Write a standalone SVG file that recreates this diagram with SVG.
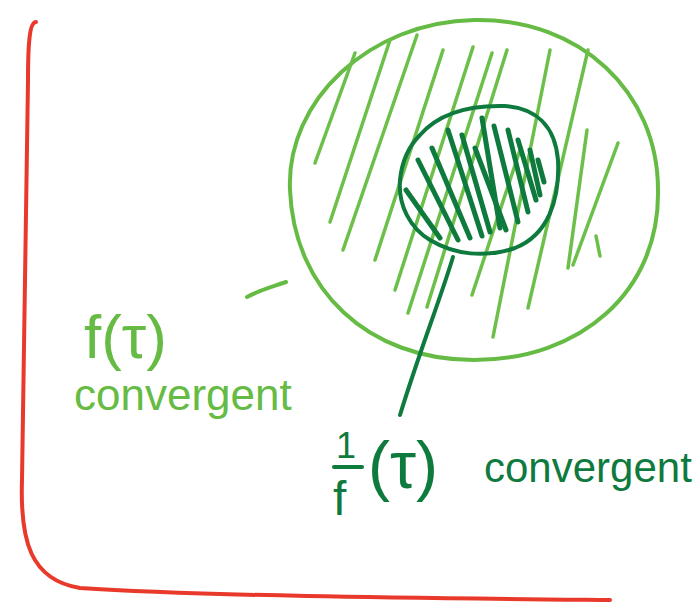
<svg xmlns="http://www.w3.org/2000/svg" width="696" height="608" viewBox="0 0 696 608">
<style>
.lg{fill:none;stroke:#66bb44;stroke-width:4;stroke-linecap:round;stroke-linejoin:round}
.lh{fill:none;stroke:#6cc04a;stroke-width:3.5;stroke-linecap:round}
.dg{fill:none;stroke:#0f7a3e;stroke-width:4;stroke-linecap:round;stroke-linejoin:round}
.dh{fill:none;stroke:#0f7a3e;stroke-width:5;stroke-linecap:round}
.red{fill:none;stroke:#e8392b;stroke-width:4;stroke-linecap:round;stroke-linejoin:round}
.tl{fill:#66bb44;font-family:"Liberation Sans","DejaVu Sans",sans-serif}
.td{fill:#0f7a3e;font-family:"Liberation Sans","DejaVu Sans",sans-serif}
</style>
<rect width="696" height="608" fill="#ffffff"/>
<g id="axes">
<path class="red" d="M36,22 C30,22 28,40 28,80 L22,480 C20,540 30,580 80,588 C200,596 420,598 610,600"/>
</g>
<g id="outer-region">
<path class="lg" d="M290,190 C286,100 370,22 474,20 C580,18 658,92 658,190 C660,292 580,360 474,360 C368,360 294,290 290,190 Z"/>
<g class="lh">
<path d="M315,163 L355,53"/>
<path d="M330,222 L390,40"/>
<path d="M343,250 L417,35"/>
<path d="M375,260 L443,50"/>
<path d="M395,290 L473,47"/>
<path d="M408,313 L492,53"/>
<path d="M427,307 L507,50"/>
<path d="M472,295 L520,150"/>
<path d="M493,337 L550,50"/>
<path d="M528,308 L588,50"/>
<path d="M568,268 L587,130"/>
<path d="M573,265 L618,143"/>
<path d="M596,236 L600,256"/>
</g>
</g>
<g id="inner-region">
<path class="dg" d="M420,135 C440,112 470,105 505,106 C535,108 555,125 558,160 C560,200 548,235 515,248 C485,258 455,255 430,240 C410,228 398,205 400,180 C402,160 410,145 420,135 Z"/>
<g class="dh">
<path d="M406,190 L440,238"/>
<path d="M418,160 L458,240"/>
<path d="M432,148 L470,238"/>
<path d="M448,130 L482,236"/>
<path d="M462,135 L490,232"/>
<path d="M475,148 L506,230"/>
<path d="M482,118 L500,228"/>
<path d="M494,126 L518,222"/>
<path d="M508,130 L528,212"/>
<path d="M518,140 L536,200"/>
<path d="M530,150 L540,195"/>
<path d="M538,160 L544,182"/>
</g>
</g>
<g id="connectors">
<path class="lg" d="M247,297 C260,290 272,287 286,282"/>
<path class="dg" d="M453,257 C440,300 420,350 400,415"/>
</g>
<g id="label-f">
<text class="tl" x="84" y="358" font-size="62">f(τ)</text>
<text class="tl" x="74" y="410" font-size="44">convergent</text>
</g>
<g id="label-inv">
<text class="td" x="336" y="458" font-size="36">1</text>
<path class="dg" d="M334,467 L362,467"/>
<text class="td" x="333" y="515" font-size="48">f</text>
<text class="td" x="368" y="488" font-size="66">(τ)</text>
<text class="td" x="484" y="482" font-size="42">convergent</text>
</g>
</svg>
